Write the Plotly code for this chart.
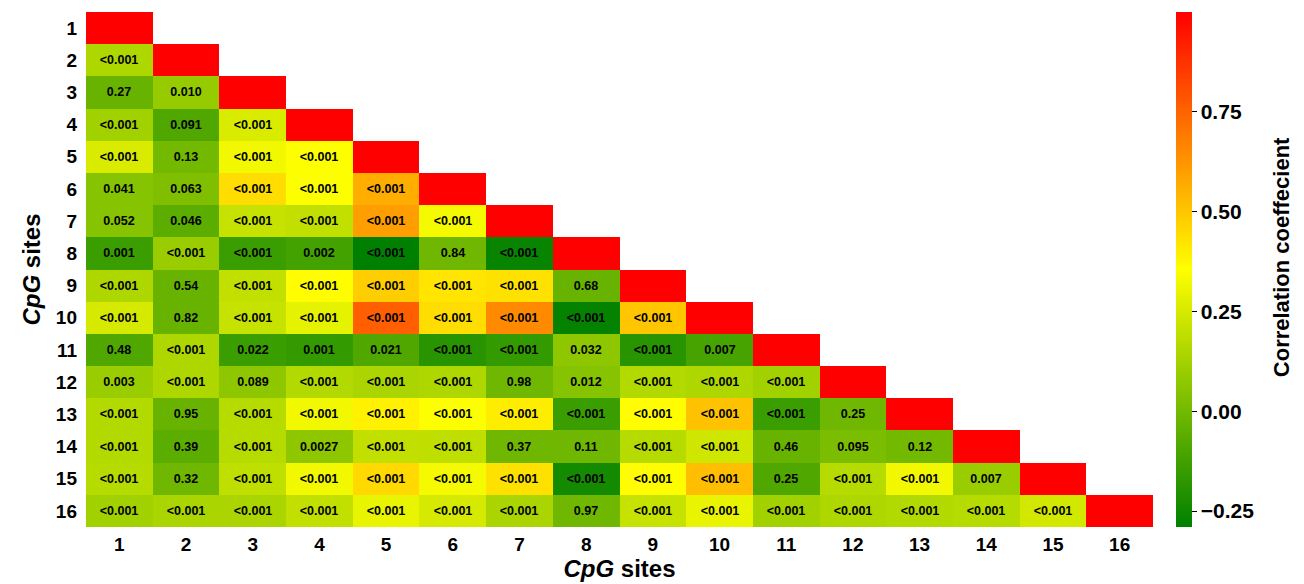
import plotly.graph_objects as go

sites = [str(i) for i in range(1, 17)]

# correlation coefficients (lower triangle, row i has i values incl. diagonal)
r1 = [1.0]
r2 = [0.15, 1.0]
r3 = [-0.03, 0.09, 1.0]
r4 = [0.12, -0.09, 0.26, 1.0]
r5 = [0.26, 0.0, 0.32, 0.35, 1.0]
r6 = [0.05, 0.03, 0.44, 0.35, 0.56, 1.0]
r7 = [0.05, -0.06, 0.21, 0.20, 0.60, 0.33, 1.0]
r8 = [-0.14, 0.10, -0.14, -0.12, -0.29, -0.01, -0.27, 1.0]
r9 = [0.15, -0.03, 0.20, 0.36, 0.48, 0.42, 0.43, -0.03, 1.0]
r10 = [0.25, -0.03, 0.21, 0.29, 0.76, 0.44, 0.65, -0.28, 0.50, 1.0]
r11 = [-0.09, 0.15, -0.14, -0.16, -0.09, -0.19, -0.16, 0.07, -0.19, -0.11, 1.0]
r12 = [0.10, 0.15, 0.07, 0.16, 0.14, 0.15, -0.01, 0.05, 0.16, 0.15, 0.12, 1.0]
r13 = [0.16, -0.03, 0.17, 0.32, 0.39, 0.35, 0.40, -0.14, 0.36, 0.51, -0.14, -0.01, 1.0]
r14 = [0.16, -0.06, 0.17, 0.07, 0.20, 0.19, -0.01, -0.01, 0.17, 0.23, -0.03, 0.02, 0.0, 1.0]
r15 = [0.17, -0.01, 0.19, 0.32, 0.45, 0.33, 0.43, -0.24, 0.36, 0.52, -0.09, 0.17, 0.32, 0.10, 1.0]
r16 = [0.12, 0.14, 0.14, 0.20, 0.30, 0.25, 0.14, -0.01, 0.21, 0.30, 0.12, 0.15, 0.16, 0.17, 0.24, 1.0]

# p-values shown in cells
p1 = [""]
p2 = ["<0.001", ""]
p3 = ["0.27", "0.010", ""]
p4 = ["<0.001", "0.091", "<0.001", ""]
p5 = ["<0.001", "0.13", "<0.001", "<0.001", ""]
p6 = ["0.041", "0.063", "<0.001", "<0.001", "<0.001", ""]
p7 = ["0.052", "0.046", "<0.001", "<0.001", "<0.001", "<0.001", ""]
p8 = ["0.001", "<0.001", "<0.001", "0.002", "<0.001", "0.84", "<0.001", ""]
p9 = ["<0.001", "0.54", "<0.001", "<0.001", "<0.001", "<0.001", "<0.001", "0.68", ""]
p10 = ["<0.001", "0.82", "<0.001", "<0.001", "<0.001", "<0.001", "<0.001", "<0.001", "<0.001", ""]
p11 = ["0.48", "<0.001", "0.022", "0.001", "0.021", "<0.001", "<0.001", "0.032", "<0.001", "0.007", ""]
p12 = ["0.003", "<0.001", "0.089", "<0.001", "<0.001", "<0.001", "0.98", "0.012", "<0.001", "<0.001", "<0.001", ""]
p13 = ["<0.001", "0.95", "<0.001", "<0.001", "<0.001", "<0.001", "<0.001", "<0.001", "<0.001", "<0.001", "<0.001", "0.25", ""]
p14 = ["<0.001", "0.39", "<0.001", "0.0027", "<0.001", "<0.001", "0.37", "0.11", "<0.001", "<0.001", "0.46", "0.095", "0.12", ""]
p15 = ["<0.001", "0.32", "<0.001", "<0.001", "<0.001", "<0.001", "<0.001", "<0.001", "<0.001", "<0.001", "0.25", "<0.001", "<0.001", "0.007", ""]
p16 = ["<0.001", "<0.001", "<0.001", "<0.001", "<0.001", "<0.001", "<0.001", "0.97", "<0.001", "<0.001", "<0.001", "<0.001", "<0.001", "<0.001", "<0.001", ""]

cbar_ticks = [-0.25, 0.0, 0.25, 0.5, 0.75]

rows_r = [r1, r2, r3, r4, r5, r6, r7, r8, r9, r10, r11, r12, r13, r14, r15, r16]
rows_p = [p1, p2, p3, p4, p5, p6, p7, p8, p9, p10, p11, p12, p13, p14, p15, p16]
n = len(sites)
z = [row + [None] * (n - len(row)) for row in rows_r]
txt = [row + [""] * (n - len(row)) for row in rows_p]

FONT = "Liberation Sans, Arial, sans-serif"

fig = go.Figure(go.Heatmap(
    z=z, x=sites, y=sites, text=txt,
    texttemplate="<b>%{text}</b>",
    textfont=dict(family=FONT, size=12.5, color="black"),
    colorscale=[[0, "#008000"], [0.5, "#FFFF00"], [1, "#FF0000"]],
    zmin=-0.29, zmax=1.0,
    hoverongaps=False,
    colorbar=dict(
        x=1.0216, xanchor="left", xpad=0, y=0.5, yanchor="middle", len=1.0,
        ypad=0, thickness=16, outlinewidth=0,
        tickvals=cbar_ticks, tickformat=".2f",
        ticks="outside", ticklen=5, tickcolor="black",
        tickfont=dict(family=FONT, size=21, color="black", weight="bold"),
    ),
))

fig.add_annotation(
    text="Correlation coeffecient", textangle=-90,
    xref="paper", yref="paper", x=1.12, y=0.524,
    xanchor="center", yanchor="middle", showarrow=False,
    font=dict(family=FONT, size=22, color="black", weight="bold"),
)

fig.update_xaxes(
    type="category", showgrid=False, zeroline=False, showline=False, ticks="",
    ticklabelstandoff=4,
    tickfont=dict(family=FONT, size=19, color="black", weight="bold"),
    title=dict(text="<i>CpG</i> sites", standoff=4,
               font=dict(family=FONT, size=24, color="black", weight="bold")),
)
fig.update_yaxes(
    type="category", autorange="reversed", showgrid=False, zeroline=False,
    showline=False, ticks="", ticklabelstandoff=8,
    tickfont=dict(family=FONT, size=19, color="black", weight="bold"),
    title=dict(text="<i>CpG</i> sites", standoff=8,
               font=dict(family=FONT, size=24, color="black", weight="bold")),
)

fig.update_layout(
    width=1304, height=584,
    margin=dict(l=78, r=159, t=4, b=65),
    paper_bgcolor="white", plot_bgcolor="white",
)

fig.write_html("out.html")
